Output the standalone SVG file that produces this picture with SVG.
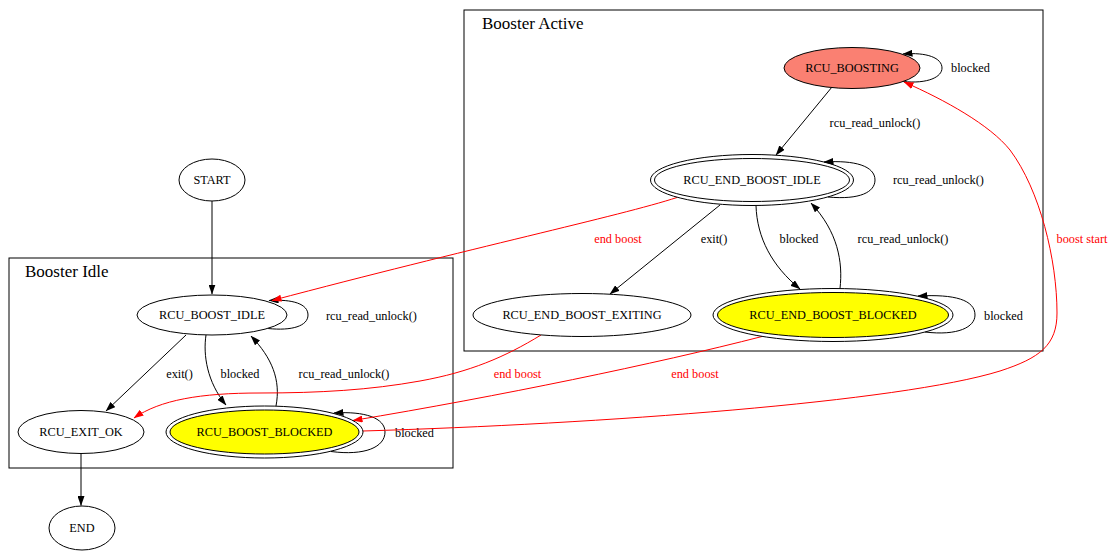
<svg xmlns="http://www.w3.org/2000/svg" width="1109" height="552" viewBox="0 0 1109 552">
<defs>
<marker id="ab" markerUnits="userSpaceOnUse" markerWidth="10" markerHeight="7" viewBox="0 0 10 7" refX="9.5" refY="3.5" orient="auto"><path d="M0,0 L10,3.5 L0,7 z" fill="#000"/></marker>
<marker id="ar" markerUnits="userSpaceOnUse" markerWidth="10" markerHeight="7" viewBox="0 0 10 7" refX="9.5" refY="3.5" orient="auto"><path d="M0,0 L10,3.5 L0,7 z" fill="#ff0000"/></marker>
</defs>
<style>
text{font-family:"Liberation Serif","Times New Roman",serif;font-size:12.3px;fill:#000}
.ct{font-size:17px}
.cl{fill:none;stroke:#000;stroke-width:1}
.n{fill:#fff;stroke:#000;stroke-width:1}
.y{fill:#ffff00;stroke:#000;stroke-width:1}
.s{fill:#fa8072;stroke:#000;stroke-width:1}
.o{fill:none;stroke:#000;stroke-width:1}
.e{fill:none;stroke:#000;stroke-width:1;marker-end:url(#ab)}
.r{fill:none;stroke:#ff0000;stroke-width:1;marker-end:url(#ar)}
.rt{fill:#ff0000}
.m{text-anchor:middle}
</style>
<rect width="1109" height="552" fill="#fff"/>
<g id="cluster_active">
<rect class="cl" x="464" y="10" width="579" height="341"/>
<text class="ct" x="482" y="29">Booster Active</text>
</g>
<g id="cluster_idle">
<rect class="cl" x="9" y="258" width="444" height="210"/>
<text class="ct" x="25" y="277">Booster Idle</text>
</g>
<g id="connectors">
<path class="e" d="M212,201 L212,294"/>
<path class="e" d="M268,328.5 C292,331 308,326 308,315 C308,304 293,299 269,300.5"/>
<text x="326" y="320">rcu_read_unlock()</text>
<path class="e" d="M186,335 L106,411"/>
<text class="m" x="179.5" y="378">exit()</text>
<path class="e" d="M206,335 C203,355 207,382 226,405"/>
<text class="m" x="240" y="378">blocked</text>
<path class="e" d="M276,406 C281,380 272,358 251,336"/>
<text class="m" x="344" y="378">rcu_read_unlock()</text>
<path class="e" d="M331,451.5 C365,456 385,447 385,432 C385,418 365,411 334,413"/>
<text x="395" y="436.5">blocked</text>
<path class="e" d="M81,454 L81,505.5"/>
<path class="e" d="M903,81.5 C928,84 942,77 942,68 C942,58 927,52 903,54"/>
<text x="951" y="72">blocked</text>
<path class="e" d="M832,87 L776,155"/>
<text class="m" x="875" y="127">rcu_read_unlock()</text>
<path class="e" d="M828,197 C860,200 875,192 875,180 C875,166 855,160 824,162"/>
<text x="893" y="184">rcu_read_unlock()</text>
<path class="e" d="M720,205 L610,294"/>
<text class="m" x="714" y="243">exit()</text>
<path class="e" d="M756,205.5 C757,238 772,266 800,289"/>
<text class="m" x="799" y="243">blocked</text>
<path class="e" d="M840,288.5 C843,262 838,232 811,203"/>
<text class="m" x="903" y="243">rcu_read_unlock()</text>
<path class="e" d="M925,332 C958,336 975,327 975,315 C975,300 955,294 918,296"/>
<text x="984" y="320">blocked</text>
<path class="r" d="M677,197.5 C620,216 470,248 272,300.5"/>
<text class="m rt" x="618" y="243">end boost</text>
<path class="r" d="M541,335 C505,357 470,372 420,381 C370,390 320,393 260,393 C200,393 160,400 134,418"/>
<text class="m rt" x="517.5" y="378">end boost</text>
<path class="r" d="M762,336.5 C655,364 500,396 353,420.5"/>
<text class="m rt" x="695" y="378">end boost</text>
<path class="r" d="M363,431 C600,424 900,402 1000,371 C1040,358 1057,345 1057,313 C1057,260 1040,190 1010,150 C990,125 945,100 904,82"/>
<text class="m rt" x="1082" y="243">boost start</text>
</g>
<g id="START">
<ellipse class="n" cx="212" cy="180" rx="33" ry="21"/>
<text class="m" x="212" y="184.3">START</text>
</g>
<g id="RCU_BOOST_IDLE">
<ellipse class="n" cx="212" cy="315" rx="75" ry="20"/>
<text class="m" x="212" y="319.3">RCU_BOOST_IDLE</text>
</g>
<g id="RCU_EXIT_OK">
<ellipse class="n" cx="81" cy="432" rx="63" ry="21.5"/>
<text class="m" x="81" y="436.3">RCU_EXIT_OK</text>
</g>
<g id="RCU_BOOST_BLOCKED">
<ellipse class="o" cx="264.5" cy="432" rx="98.5" ry="26"/>
<ellipse class="y" cx="264.5" cy="432" rx="94.5" ry="22"/>
<text class="m" x="264.5" y="436.3">RCU_BOOST_BLOCKED</text>
</g>
<g id="END">
<ellipse class="n" cx="82" cy="528" rx="33" ry="22"/>
<text class="m" x="82" y="532.3">END</text>
</g>
<g id="RCU_BOOSTING">
<ellipse class="s" cx="852" cy="68" rx="68" ry="20.5"/>
<text class="m" x="852" y="72.3">RCU_BOOSTING</text>
</g>
<g id="RCU_END_BOOST_IDLE">
<ellipse class="o" cx="752" cy="180" rx="101.5" ry="25.5"/>
<ellipse class="n" cx="752" cy="180" rx="97.5" ry="21.5"/>
<text class="m" x="752" y="184.3">RCU_END_BOOST_IDLE</text>
</g>
<g id="RCU_END_BOOST_EXITING">
<ellipse class="n" cx="582" cy="315" rx="109" ry="21.5"/>
<text class="m" x="582" y="319.3">RCU_END_BOOST_EXITING</text>
</g>
<g id="RCU_END_BOOST_BLOCKED">
<ellipse class="o" cx="833" cy="315" rx="120" ry="26.5"/>
<ellipse class="y" cx="833" cy="315" rx="115.5" ry="22.5"/>
<text class="m" x="833" y="319.3">RCU_END_BOOST_BLOCKED</text>
</g>
</svg>
